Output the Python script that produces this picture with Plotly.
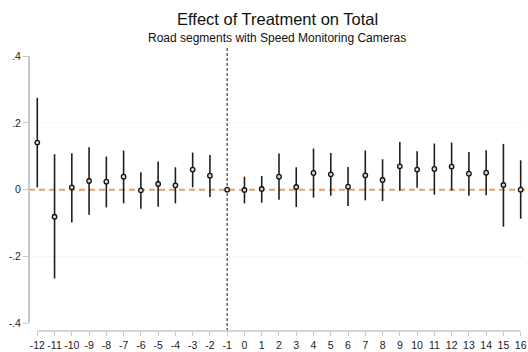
import plotly.graph_objects as go

# Event-study estimates: period relative to treatment, point estimate, 95% CI bounds
periods = list(range(-12, 17))
coef = [0.141, -0.081, 0.007, 0.026, 0.024, 0.039, -0.002, 0.017, 0.013, 0.060,
        0.042, 0.000, -0.001, 0.002, 0.039, 0.008, 0.050, 0.046, 0.009, 0.043,
        0.029, 0.070, 0.060, 0.062, 0.069, 0.048, 0.051, 0.014, 0.000]
ci_lo = [0.007, -0.266, -0.098, -0.075, -0.053, -0.041, -0.057, -0.051, -0.041, 0.007,
         -0.022, 0.000, -0.041, -0.039, -0.030, -0.052, -0.024, -0.018, -0.049, -0.032,
         -0.034, -0.003, 0.006, -0.015, -0.003, -0.018, -0.017, -0.111, -0.087]
ci_hi = [0.275, 0.106, 0.109, 0.127, 0.099, 0.117, 0.052, 0.084, 0.067, 0.111,
         0.104, 0.000, 0.039, 0.041, 0.108, 0.067, 0.123, 0.110, 0.068, 0.117,
         0.091, 0.143, 0.115, 0.138, 0.141, 0.113, 0.118, 0.137, 0.088]

y_ticks = [0.4, 0.2, 0.0, -0.2, -0.4]
y_tick_text = [".4", ".2", "0", "-.2", "-.4"]
x_tick_text = [str(p) for p in periods]

err_plus = [h - c for h, c in zip(ci_hi, coef)]
err_minus = [c - l for c, l in zip(coef, ci_lo)]

FONT = "Liberation Sans, Arial, sans-serif"
AXIS_GREY = "#c8c8c8"

fig = go.Figure()

fig.add_trace(go.Scatter(
    x=periods, y=coef, mode="markers",
    error_y=dict(type="data", symmetric=False, array=err_plus, arrayminus=err_minus,
                 width=0, thickness=1.6, color="#1e1e1e"),
    marker=dict(symbol="circle", size=4.5, color="#d8d8d8",
                line=dict(color="#111111", width=1.3)),
    showlegend=False, hoverinfo="x+y",
))

shapes = []
# dotted grid at interior ticks
for gy in (0.2, -0.2):
    shapes.append(dict(type="line", xref="paper", yref="y", x0=0, x1=1, y0=gy, y1=gy,
                       line=dict(color="#dcdcdc", width=1, dash="1px,3px"), layer="below"))
# zero reference line
shapes.append(dict(type="line", xref="paper", yref="y", x0=0, x1=1, y0=0, y1=0,
                   line=dict(color="#e8a06a", width=2, dash="6px,4px"), layer="below"))
# treatment onset marker
shapes.append(dict(type="line", xref="x", yref="paper", x0=-1, x1=-1, y0=0, y1=1,
                   line=dict(color="#666666", width=1.5, dash="3px,2px"), layer="below"))
# y axis line spanning the tick range
shapes.append(dict(type="line", xref="paper", yref="y", x0=0, x1=0, y0=-0.4, y1=0.4,
                   line=dict(color=AXIS_GREY, width=2)))
# x axis line spanning the tick range
shapes.append(dict(type="line", xref="x", yref="paper", x0=-12, x1=16, y0=0, y1=0,
                   line=dict(color=AXIS_GREY, width=1.5)))

fig.update_layout(
    width=528, height=352,
    margin=dict(l=29, r=1, t=48, b=21),
    paper_bgcolor="white", plot_bgcolor="white",
    font=dict(family=FONT, size=11, color="#222222"),
    shapes=shapes,
    xaxis=dict(range=[-12.48, 16.25], tickvals=periods, ticktext=x_tick_text,
               tickangle=0, ticklabeloverflow="allow",
               showgrid=False, zeroline=False, showline=False,
               ticks="outside", ticklen=4, tickcolor=AXIS_GREY, tickwidth=1,
               tickfont=dict(size=10.5, color="#222222")),
    yaxis=dict(range=[-0.423, 0.424], tickvals=y_ticks, ticktext=y_tick_text,
               showgrid=False, zeroline=False, showline=False,
               ticks="outside", ticklen=5, tickcolor=AXIS_GREY, tickwidth=1,
               tickfont=dict(size=10.5, color="#222222")),
    annotations=[
        dict(text="Effect of Treatment on Total", xref="paper", yref="paper",
             x=0.5, y=1, yshift=29, xanchor="center", yanchor="middle",
             showarrow=False, font=dict(family=FONT, size=16.5, color="#111111")),
        dict(text="Road segments with Speed Monitoring Cameras", xref="paper", yref="paper",
             x=0.5, y=1, yshift=10, xanchor="center", yanchor="middle",
             showarrow=False, font=dict(family=FONT, size=12, color="#111111")),
    ],
)

fig.write_html("out.html")
